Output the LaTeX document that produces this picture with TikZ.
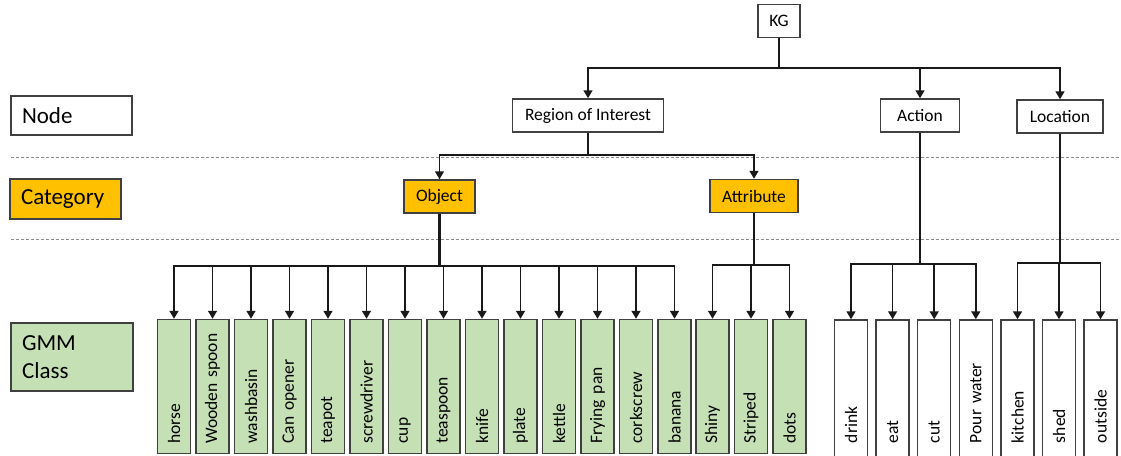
\documentclass[tikz,border=0pt]{standalone}
\usepackage{fontspec}
\setmainfont{Carlito}
\usetikzlibrary{arrows.meta,positioning}
\definecolor{catorange}{HTML}{FFC000}
\definecolor{gmmgreen}{HTML}{C5E0B4}
\tikzset{
  box/.style={draw=black!75, line width=1.5pt, fill=white, inner sep=0pt,
    font=\fontsize{17.5}{21}\selectfont},
  legend/.style={box, inner xsep=11pt, align=left,
    font=\fontsize{23}{28}\selectfont},
  cls/.style={box, fill=gmmgreen, rotate=90, minimum width=134pt,
    minimum height=33pt, text width=114pt, inner xsep=10pt, align=left},
  wcls/.style={cls, fill=white, minimum width=140pt, text width=106pt,
    inner xsep=17pt},
  link/.style={draw=black!90, line width=1.6pt},
  arr/.style={link, -{Triangle[width=9pt,length=8pt]}},
  sepline/.style={draw=black!45, line width=0.8pt, dash pattern=on 3pt off 2pt}
}
\begin{document}
\begin{tikzpicture}[x=1pt,y=-1pt]
\useasboundingbox (0,0) rectangle (1121,455);
% level separators
\draw[sepline] (11,157) -- (1121,157);
\draw[sepline] (11,239) -- (1121,239);

% legend on the left
\node[legend, minimum height=39pt, text width=99pt] (lnode) at (71.5,115.5) {Node};
\node[legend, fill=catorange, minimum height=40pt, text width=89pt] (lcat) at (65.5,199) {Category};
\node[legend, fill=gmmgreen, minimum height=68pt, text width=100pt] (lgmm) at (72,357) {GMM\\Class};

% root and nodes
\node[box, minimum width=42pt, minimum height=33pt] (kg) at (779,21) {KG};
\node[box, minimum width=151pt, minimum height=33pt] (roi) at (588,115.5) {Region of Interest};
\node[box, minimum width=79pt, minimum height=33pt] (act) at (920,115.5) {Action};
\node[box, minimum width=86pt, minimum height=33pt] (loc) at (1060,116.5) {Location};

% categories
\node[box, fill=catorange, minimum width=71pt, minimum height=33pt] (obj) at (439.5,196.5) {Object};
\node[box, fill=catorange, minimum width=88pt, minimum height=33pt] (att) at (754,196) {Attribute};

% GMM classes
\foreach \lbl [count=\i] in {horse,Wooden spoon,washbasin,Can opener,teapot,screwdriver,cup,teaspoon,knife,plate,kettle,Frying pan,corkscrew,banana}
  \node[cls] (o\i) at ({135.5+38.5*\i},386.5) {\lbl};
\foreach \lbl [count=\i] in {Shiny,Striped,dots}
  \node[cls] (a\i) at ({674+38.5*\i},386.5) {\lbl};
\foreach \lbl [count=\i] in {drink,eat,cut,Pour water}
  \node[wcls] (c\i) at ({809.4+41.6*\i},390) {\lbl};
\foreach \lbl [count=\i] in {kitchen,shed,outside}
  \node[wcls] (l\i) at ({976+41.5*\i},390) {\lbl};

% KG -> nodes
\coordinate (kgbus) at (779,68);
\draw[link] (kg) -- (kgbus);
\foreach \n in {roi,act,loc} \draw[arr] (kgbus) -| (\n);

% region of interest -> categories
\coordinate (roibus) at (588,155);
\draw[link] (roi) -- (roibus);
\foreach \n in {obj,att} \draw[arr] (roibus) -| (\n);

% categories / nodes -> classes
\coordinate (objbus) at (439.5,266);
\draw[link, line width=2.4pt] (obj) -- (objbus);
\foreach \i in {1,...,14} \draw[arr] (objbus) -| (o\i.east);
\coordinate (attbus) at (754,265);
\draw[link] (att) -- (attbus);
\foreach \i in {1,2,3} \draw[arr] (attbus) -| (a\i.east);
\coordinate (actbus) at (920,264);
\draw[link] (act) -- (actbus);
\foreach \i in {1,...,4} \draw[arr] (actbus) -| (c\i.east);
\coordinate (locbus) at (1060,263);
\draw[link, line width=2.4pt] (loc) -- (locbus);
\foreach \i in {1,2,3} \draw[arr] (locbus) -| (l\i.east);
\end{tikzpicture}
\end{document}
